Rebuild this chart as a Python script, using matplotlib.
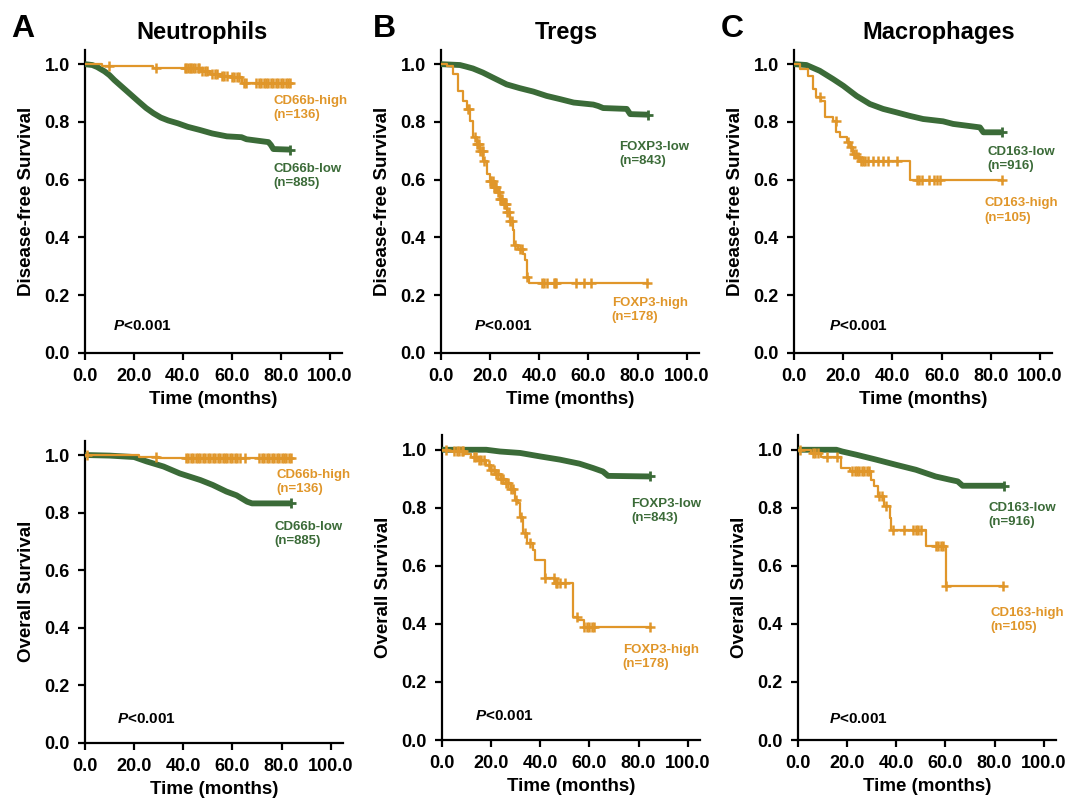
import matplotlib
matplotlib.use("Agg")
import matplotlib.pyplot as plt

plt.rcParams['font.family'] = ['Liberation Sans', 'DejaVu Sans']
plt.rcParams['font.weight'] = 'bold'
plt.rcParams['mathtext.fontset'] = 'custom'
plt.rcParams['mathtext.it'] = 'Liberation Sans:italic:bold'
plt.rcParams['mathtext.rm'] = 'Liberation Sans:bold'

ORANGE = '#E0962A'
GREEN = '#3B6B38'

# ---------------- data ----------------
# Panel A - Neutrophils, disease-free survival
neu_dfs_high_t = [0, 7, 28, 47, 51, 56, 60, 64, 84]
neu_dfs_high_s = [1.0, 0.992, 0.986, 0.975, 0.965, 0.96, 0.954, 0.934, 0.934]
neu_dfs_high_c = [10, 29, 41, 41.5, 42, 43, 43.5, 44, 45, 46, 46.5, 48, 49, 50, 52, 53, 54,
                  56, 57, 58, 60, 61, 62, 63, 65, 66, 70, 71, 72, 73, 74, 75, 76, 77, 78,
                  79, 80, 81, 82, 83, 84]
neu_dfs_low_t = [0, 3, 5, 8, 10, 12, 14, 16, 18, 20, 22, 25, 28, 31, 34, 38, 42, 47, 52, 58,
                 64, 66, 75, 76, 77, 84]
neu_dfs_low_s = [1.0, 0.997, 0.99, 0.975, 0.962, 0.945, 0.93, 0.915, 0.9, 0.885, 0.87, 0.848,
                 0.83, 0.815, 0.805, 0.795, 0.783, 0.772, 0.76, 0.75, 0.747, 0.74, 0.73, 0.72,
                 0.706, 0.704]

# Panel A - Neutrophils, overall survival
neu_os_high_t = [0, 22, 30, 84]
neu_os_high_s = [1.0, 0.994, 0.988, 0.988]
neu_os_high_c = [1, 29, 41, 42, 43, 44, 45, 46, 47, 48, 49, 50, 51, 52, 53, 54, 55, 56, 57,
                 58, 59, 60, 61, 62, 63, 65, 71, 72, 73, 74, 75, 76, 77, 78, 79, 80, 81, 82,
                 83, 84]
neu_os_low_t = [0, 10, 20, 25, 32, 38.6, 47, 52, 57.6, 61.7, 66, 68, 84]
neu_os_low_s = [1.0, 0.998, 0.993, 0.978, 0.96, 0.936, 0.913, 0.896, 0.873, 0.86, 0.838,
                0.832, 0.832]

# Panel B - Tregs, disease-free survival
treg_dfs_low_t = [0, 7.7, 10, 13, 17, 21, 26.7, 32, 37.6, 43, 48.4, 54, 62, 64, 66, 75.6,
                  77, 84.4]
treg_dfs_low_s = [1.0, 0.997, 0.992, 0.985, 0.971, 0.954, 0.93, 0.917, 0.905, 0.89, 0.879,
                  0.867, 0.86, 0.855, 0.848, 0.845, 0.827, 0.825]
treg_dfs_high_t = [0, 2.3, 5, 7, 9, 10.4, 11.8, 13, 14.5, 16, 17.2, 18.6, 20, 21.3, 22.7,
                   24, 25.4, 26.7, 28, 29.4, 29.7, 31.5, 33.5, 34.2, 35, 36, 84.4]
treg_dfs_high_s = [1.0, 0.994, 0.965, 0.908, 0.873, 0.845, 0.804, 0.747, 0.724, 0.7, 0.666,
                   0.62, 0.597, 0.574, 0.556, 0.533, 0.516, 0.487, 0.458, 0.424, 0.372,
                   0.36, 0.343, 0.32, 0.263, 0.242, 0.242]
treg_dfs_high_c = [11, 11.5, 14, 14.5, 15, 15.5, 16, 16.5, 17, 17.5, 20, 20.5, 21, 21.5, 22,
                   22.5, 23, 23.5, 24, 24.5, 25, 25.5, 26, 26.5, 27, 27.5, 28, 29, 30, 32,
                   33, 35, 41, 42, 43, 46, 46.5, 47, 55, 58, 61, 84]

# Panel B - Tregs, overall survival
treg_os_low_t = [0, 18, 23.6, 31.8, 40, 48, 56, 61.5, 65.5, 67.6, 84.5]
treg_os_low_s = [1.0, 1.0, 0.994, 0.989, 0.977, 0.966, 0.952, 0.937, 0.925, 0.91, 0.908]
treg_os_high_t = [0, 2.7, 9, 12, 15, 18, 20, 22, 24, 26, 28, 29.7, 31, 31.8, 33, 34.5, 37,
                  37.8, 41.8, 46, 53.3, 55.5, 58, 84.5]
treg_os_high_s = [1.0, 0.994, 0.985, 0.975, 0.965, 0.948, 0.93, 0.915, 0.9, 0.885, 0.865,
                  0.828, 0.816, 0.77, 0.713, 0.678, 0.655, 0.62, 0.557, 0.54, 0.425, 0.414,
                  0.39, 0.39]
treg_os_high_c = [1.5, 5, 6, 7, 8, 8.5, 13, 14, 15, 16, 17, 19, 20, 21, 22, 23, 24, 25, 26,
                  27, 28, 29, 30, 32, 34, 36, 42, 45.5, 46.5, 47, 48, 50, 55, 58, 59, 60,
                  61, 62, 84.5]

# Panel C - Macrophages, disease-free survival
mac_dfs_low_t = [0, 5, 10.4, 15.9, 20, 25.4, 30.8, 36.2, 41.7, 47, 52.5, 60.6, 64.7, 75.6,
                 77, 84.4]
mac_dfs_low_s = [1.0, 0.997, 0.977, 0.948, 0.925, 0.89, 0.862, 0.845, 0.833, 0.821, 0.81,
                 0.802, 0.793, 0.781, 0.764, 0.764]
mac_dfs_high_t = [0, 2.3, 5.7, 7.7, 9, 11, 12.5, 15.9, 17.2, 18.6, 21.3, 22.7, 24, 25.4,
                  26.7, 47, 84.4]
mac_dfs_high_s = [1.0, 0.983, 0.96, 0.914, 0.885, 0.873, 0.816, 0.804, 0.764, 0.747, 0.729,
                  0.712, 0.689, 0.677, 0.664, 0.6, 0.6]
mac_dfs_high_c = [10.5, 17, 22, 23, 24.5, 25, 26, 27, 28, 29, 30, 32, 34, 36, 38, 42, 50,
                  51, 52, 55, 57, 58, 59.5, 84.4]

# Panel C - Macrophages, overall survival
mac_os_low_t = [0, 15.6, 18, 23.7, 31.8, 40, 48, 56, 61.7, 65, 67, 84]
mac_os_low_s = [1.0, 1.0, 0.994, 0.983, 0.966, 0.948, 0.931, 0.908, 0.897, 0.891, 0.876,
                0.876]
mac_os_high_t = [0, 5.4, 9.5, 17.6, 21, 29.8, 31, 32.5, 35.2, 37.3, 38, 52.2, 60.3, 83.3]
mac_os_high_s = [1.0, 0.989, 0.975, 0.937, 0.928, 0.897, 0.874, 0.84, 0.805, 0.764, 0.724,
                 0.667, 0.529, 0.529]
mac_os_high_c = [1, 6, 7, 8, 12, 16, 22, 23, 24, 25, 26, 27, 28, 29, 33, 34, 36, 38.5, 43,
                 47, 48, 49, 50, 56, 57, 58, 59, 60.3, 83.3]

titles = ['Neutrophils', 'Tregs', 'Macrophages']
letters = ['A', 'B', 'C']
ylabels = ['Disease-free Survival', 'Overall Survival']
x_ticks = [0, 20, 40, 60, 80, 100]
y_ticks = [0.0, 0.2, 0.4, 0.6, 0.8, 1.0]
p_text = '$P$<0.001'

# label texts
high_labels = [['CD66b-high\n(n=136)', 'FOXP3-high\n(n=178)', 'CD163-high\n(n=105)']] * 2
low_labels = [['CD66b-low\n(n=885)', 'FOXP3-low\n(n=843)', 'CD163-low\n(n=916)']] * 2

# ---------------- layout ----------------
fig = plt.figure(figsize=(10.66, 8.02), dpi=100)

positions = [
    [[0.0797, 0.560, 0.241, 0.378], [0.4137, 0.560, 0.242, 0.378], [0.745, 0.560, 0.242, 0.378]],
    [[0.0797, 0.0736, 0.242, 0.377], [0.4146, 0.0773, 0.242, 0.380], [0.7486, 0.0773, 0.242, 0.380]],
]

curves = [
    [  # DFS row
        (neu_dfs_low_t, neu_dfs_low_s, neu_dfs_high_t, neu_dfs_high_s, neu_dfs_high_c),
        (treg_dfs_low_t, treg_dfs_low_s, treg_dfs_high_t, treg_dfs_high_s, treg_dfs_high_c),
        (mac_dfs_low_t, mac_dfs_low_s, mac_dfs_high_t, mac_dfs_high_s, mac_dfs_high_c),
    ],
    [  # OS row
        (neu_os_low_t, neu_os_low_s, neu_os_high_t, neu_os_high_s, neu_os_high_c),
        (treg_os_low_t, treg_os_low_s, treg_os_high_t, treg_os_high_s, treg_os_high_c),
        (mac_os_low_t, mac_os_low_s, mac_os_high_t, mac_os_high_s, mac_os_high_c),
    ],
]

# annotation positions (data coords): (x, y) for high label, low label, P value
high_pos = [[(77, 0.848), (69.5, 0.148), (77.6, 0.493)],
            [(78, 0.906), (73.6, 0.286), (78.5, 0.414)]]
low_pos = [[(77, 0.612), (72.4, 0.69), (78.5, 0.672)],
           [(77, 0.726), (77, 0.79), (77.6, 0.776)]]
p_pos = [[(11.4, 0.093), (13.4, 0.093), (14.2, 0.093)],
         [(13, 0.083), (13.4, 0.083), (12.6, 0.072)]]


def censor_y(t_list, s_list, c_list):
    ys = []
    for c in c_list:
        val = s_list[0]
        for t, s in zip(t_list, s_list):
            if t <= c:
                val = s
        ys.append(val)
    return ys


for r in range(2):
    for c in range(3):
        ax = fig.add_axes(positions[r][c])
        lt, ls, ht, hs, hc = curves[r][c]
        # dense low group: many censor marks form a thick band
        ax.plot(lt, ls, color=GREEN, lw=4.2, solid_capstyle='butt', zorder=3)
        ax.plot(lt[-1], ls[-1], marker='+', color=GREEN, ms=7, mew=2, zorder=3)
        # high group: step curve with censor marks
        ax.step(ht, hs, where='post', color=ORANGE, lw=1.6, zorder=4)
        ax.plot(hc, censor_y(ht, hs, hc), ls='none', marker='+', color=ORANGE,
                ms=7, mew=1.8, zorder=4)

        ax.set_xlim(0, 105)
        ax.set_ylim(0, 1.05)
        ax.set_xticks(x_ticks)
        ax.set_xticklabels([f'{v:.1f}' for v in x_ticks])
        ax.set_yticks(y_ticks)
        ax.set_yticklabels([f'{v:.1f}' for v in y_ticks])
        for s in ['top', 'right']:
            ax.spines[s].set_visible(False)
        for s in ['left', 'bottom']:
            ax.spines[s].set_linewidth(1.6)
        ax.tick_params(axis='both', direction='out', length=5, width=1.6,
                       labelsize=13, pad=6)
        ax.set_xlabel('Time (months)', fontsize=13.5, fontweight='bold', labelpad=4)
        ax.set_ylabel(ylabels[r], fontsize=13.5, fontweight='bold', labelpad=7)

        hx, hy = high_pos[r][c]
        ax.text(hx, hy, high_labels[r][c], color=ORANGE, fontsize=9.5,
                fontweight='bold', va='center', ha='left', linespacing=1.25)
        lx, ly = low_pos[r][c]
        ax.text(lx, ly, low_labels[r][c], color=GREEN, fontsize=9.5,
                fontweight='bold', va='center', ha='left', linespacing=1.25)
        px, py = p_pos[r][c]
        ax.text(px, py, p_text, color='black', fontsize=11, fontweight='bold',
                va='center', ha='left')

# titles and panel letters
title_x = [202, 566, 939]
letter_x = [23, 384, 732]
for i in range(3):
    fig.text(title_x[i] / 1066, 1 - 32 / 802, titles[i], fontsize=17,
             fontweight='bold', ha='center', va='center')
    fig.text(letter_x[i] / 1066, 1 - 29 / 802, letters[i], fontsize=23,
             fontweight='bold', ha='center', va='center')

fig.savefig('out.png', dpi=100)
